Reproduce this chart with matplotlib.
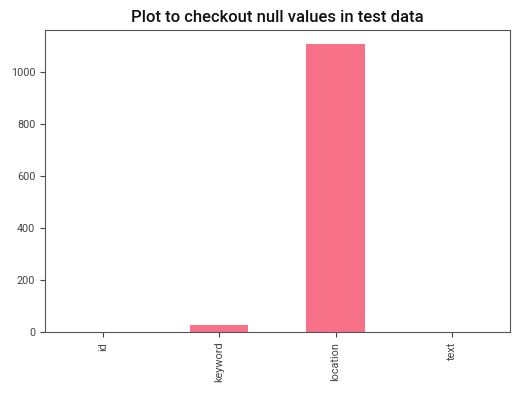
import matplotlib
matplotlib.use("Agg")
import pandas as pd
from matplotlib import pyplot as plt

# null counts per column in the test set
columns = ["id", "keyword", "location", "text"]
null_counts = [0, 26, 1105, 0]

plt.rcParams['font.family'] = ['Roboto', 'DejaVu Sans']

fig = plt.figure(figsize=(5.2, 3.93), dpi=100)
ax = fig.add_axes([0.0865, 0.155, 0.894, 0.769])

s = pd.Series(null_counts, index=columns)
s.plot(kind="bar", ax=ax, color="#f77189")

ax.set_title("Plot to checkout null values in test data", fontsize=12, color="#111111", fontweight="medium")
for sp in ax.spines.values():
    sp.set_color("#555555")
ax.tick_params(colors="#444444", labelsize=7.8, length=3.5)

fig.savefig("out.png", dpi=100)
